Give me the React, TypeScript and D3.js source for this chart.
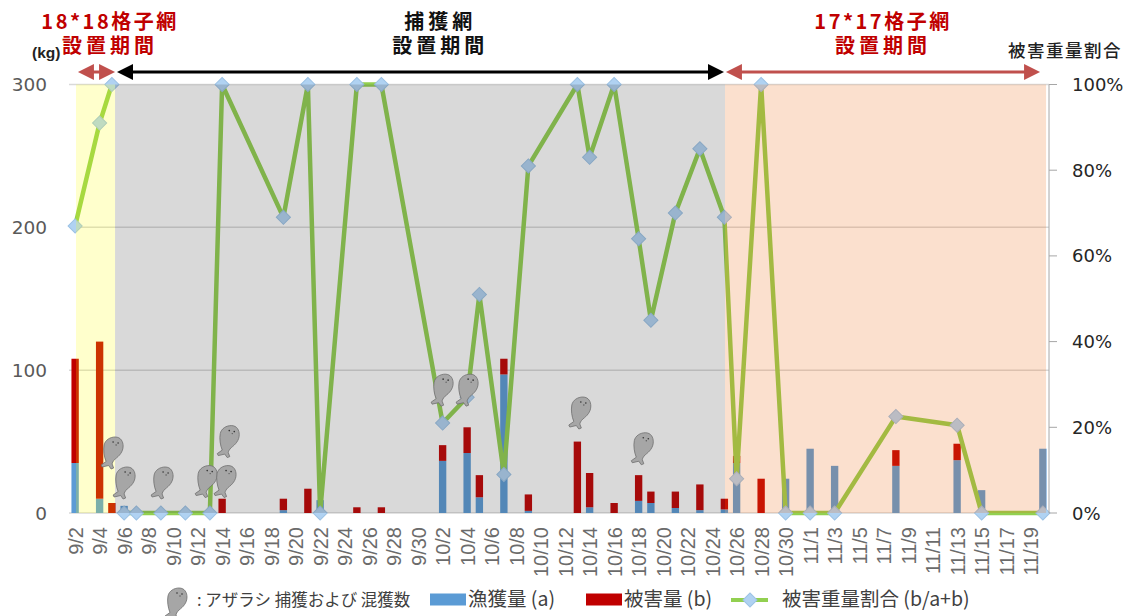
import React from 'react';
import * as d3 from 'd3';

const dates = [
  '9/2', '9/3', '9/4', '9/5', '9/6', '9/7', '9/8', '9/9', '9/10', '9/11', '9/12', '9/13', '9/14', '9/15', '9/16',
  '9/17', '9/18', '9/19', '9/20', '9/21', '9/22', '9/23', '9/24', '9/25', '9/26', '9/27', '9/28', '9/29', '9/30',
  '10/1', '10/2', '10/3', '10/4', '10/5', '10/6', '10/7', '10/8', '10/9', '10/10', '10/11', '10/12', '10/13',
  '10/14', '10/15', '10/16', '10/17', '10/18', '10/19', '10/20', '10/21', '10/22', '10/23', '10/24', '10/25',
  '10/26', '10/27', '10/28', '10/29', '10/30', '10/31', '11/1', '11/2', '11/3', '11/4', '11/5', '11/6', '11/7',
  '11/8', '11/9', '11/10', '11/11', '11/12', '11/13', '11/14', '11/15', '11/16', '11/17', '11/18', '11/19', '11/20',
];

// bars: catch (a) and damage (b), kg
const barDates = ['9/2', '9/4', '9/5', '9/6', '9/14', '9/19', '9/21', '9/22', '9/25', '9/27', '10/2', '10/4', '10/5', '10/7', '10/9', '10/13', '10/14', '10/16', '10/18', '10/19', '10/21', '10/23', '10/25', '10/26', '10/28', '10/30', '11/1', '11/3', '11/8', '11/13', '11/15', '11/20'];
const catchKg = [35, 10, 0, 5, 0, 2, 0, 9, 0, 0, 36.5, 42, 11, 97, 1.5, 0, 4, 0, 8.5, 7, 3.5, 2, 2.5, 35, 0, 24, 45, 33, 33, 37, 16, 45];
const damageKg = [73, 110, 7, 0, 10, 8, 17, 0, 4, 4, 11, 18, 15.5, 11, 11.5, 50, 24, 7, 18, 8, 11.5, 18, 7.5, 5, 24, 0, 0, 0, 11, 11.5, 0, 0];

// damage ratio line, %. The line is broken after the first three points
const ratioDates = ['9/2', '9/4', '9/5', '9/6', '9/7', '9/9', '9/11', '9/13', '9/14', '9/19', '9/21', '9/22', '9/25', '9/27', '10/2', '10/4', '10/5', '10/7', '10/9', '10/13', '10/14', '10/16', '10/18', '10/19', '10/21', '10/23', '10/25', '10/26', '10/28', '10/30', '11/1', '11/3', '11/8', '11/13', '11/15', '11/20'];
const ratioPct = [67, 91, 100, 0, 0, 0, 0, 0, 100, 69, 100, 0, 100, 100, 21, 27, 51, 9, 81, 100, 83, 100, 64, 45, 70, 85, 69, 8, 100, 0, 0, 0, 22.5, 20.5, 0, 0];
const ratioBreak = 3;

// seals: fractional day index and height in kg
const sealDays = [3.02, 4, 7.1, 10.7, 12.24, 12.5, 29.96, 32, 41.2, 46.3];
const sealKg = [42, 21, 21, 22, 22, 50, 86, 86, 70, 45];

const leftTicks = [0, 100, 200, 300];
const rightTicks = [0, 20, 40, 60, 80, 100];

// period bands as day edges
const periods = [
  { from: 0.57, to: 3.76, fill: '#FFFF00', opacity: 0.2 },
  { from: 3.76, to: 53.55, fill: '#343434', opacity: 0.19 },
  { from: 53.55, to: 79.76, fill: '#EB640A', opacity: 0.2 },
];

const arrows = [
  { from: 0.73, to: 3.76, color: '#C0504D', w: 3 },
  { from: 3.92, to: 53.47, color: '#000000', w: 3 },
  { from: 53.63, to: 79.27, color: '#C0504D', w: 3 },
];

const headings = [
  { day: 3.35, color: '#C00000', lines: ['18*18格子網', '設置期間'], spacing: [2.5, 4] },
  { day: 30.3, color: '#111111', lines: ['捕獲網', '設置期間'], spacing: [4, 4] },
  { day: 66.45, color: '#C00000', lines: ['17*17格子網', '設置期間'], spacing: [2.5, 4] },
];

const W = 1131;
const H = 616;
const margin = { top: 84.5, right: 82, bottom: 103, left: 69 };
const sans = '"Liberation Sans", "Noto Sans CJK JP", sans-serif';
const wide = '"DejaVu Sans", sans-serif';
const cjk = '"Noto Sans CJK JP", sans-serif';
const GREEN = '#92D050';

const x = d3.scaleBand<string>().domain(dates).range([margin.left, W - margin.right]).paddingInner(0.4).paddingOuter(0.2);
const edge = d3.scaleLinear().domain([0, 80]).range([margin.left, W - margin.right]);
const yKg = d3.scaleLinear().domain([0, 300]).range([H - margin.bottom, margin.top]);
const yPct = d3.scaleLinear().domain([0, 100]).range([H - margin.bottom, margin.top]);
const cx = (d: string) => (x(d) as number) + x.bandwidth() / 2;

const ratioPoints = ratioDates.map((d, i) => ({ date: d, pct: ratioPct[i] }));
const line = d3.line<{ date: string; pct: number }>()
  .x(d => cx(d.date))
  .y(d => yPct(d.pct));

function Seal({ tx, ty }: { tx: number; ty: number }) {
  return (
    <g transform={`translate(${tx},${ty})`}>
      <path
        d="M3,-16 C9,-16 11,-11 11,-7 C11,-1 7,3 3,6 C1,8 0,10 0,11 L1.5,15 L-1,16 L-3.5,12.5 L-10,14 L-11,12 L-6,8.5 C-8,4 -9,-3 -8,-8 C-7,-13 -2,-16 3,-16 Z"
        fill="#A6A6A6"
        stroke="#6F6F6F"
        strokeWidth={0.8}
      />
      <circle cx={1} cy={-11} r={0.8} fill="#333" />
      <circle cx={6} cy={-10} r={0.8} fill="#333" />
      <circle cx={4} cy={-8} r={0.7} fill="#555" />
    </g>
  );
}

function Marker({ tx, ty }: { tx: number; ty: number }) {
  return (
    <path
      transform={`translate(${tx},${ty}) rotate(45)`}
      d="M-5,-5H5V5H-5Z"
      fill="#B0D2F2"
      stroke="#9CC2E5"
      strokeWidth={1}
    />
  );
}

function Arrow({ x1, x2, y, color, w }: { x1: number; x2: number; y: number; color: string; w: number }) {
  const len = Math.min(16, (x2 - x1) / 2);
  return (
    <g fill={color}>
      <line x1={x1 + 4} x2={x2 - 4} y1={y} y2={y} stroke={color} strokeWidth={w} />
      <path d={`M${x1},${y}L${x1 + len},${y - 8}V${y + 8}Z`} />
      <path d={`M${x2},${y}L${x2 - len},${y - 8}V${y + 8}Z`} />
    </g>
  );
}

export default function App() {
  const base = yKg(0);
  return (
    <svg width={W} height={H} style={{ position: 'fixed', left: 0, top: 0, display: 'block', background: '#fff' }}>
      {/* Gridlines */}
      {leftTicks.map(t => (
        <line key={t} x1={margin.left} x2={W - margin.right} y1={yKg(t)} y2={yKg(t)} stroke="#D9D9D9" strokeWidth={1.5} />
      ))}

      {/* Stacked bars */}
      {barDates.map((d, i) => (
        <g key={d}>
          {catchKg[i] > 0 && (
            <rect x={x(d)} width={x.bandwidth()} y={yKg(catchKg[i])} height={base - yKg(catchKg[i])} fill="#5B9BD5" />
          )}
          {damageKg[i] > 0 && (
            <rect x={x(d)} width={x.bandwidth()} y={yKg(catchKg[i] + damageKg[i])} height={yKg(catchKg[i]) - yKg(catchKg[i] + damageKg[i])} fill="#C00000" />
          )}
        </g>
      ))}

      {/* Ratio line */}
      {[ratioPoints.slice(0, ratioBreak), ratioPoints.slice(ratioBreak)].map(seg => (
        <path key={seg[0].date} d={line(seg) ?? ''} fill="none" stroke={GREEN} strokeWidth={4.5} strokeLinejoin="round" />
      ))}
      {ratioDates.map((d, i) => (
        <Marker key={d} tx={cx(d)} ty={yPct(ratioPct[i])} />
      ))}

      {/* Period bands sit on top of the bars, they tint them */}
      {periods.map(p => (
        <rect
          key={p.from}
          x={edge(p.from)}
          width={edge(p.to) - edge(p.from)}
          y={margin.top}
          height={base - margin.top}
          fill={p.fill}
          fillOpacity={p.opacity}
        />
      ))}

      {/* Right axis */}
      <line x1={W - margin.right} x2={W - margin.right} y1={margin.top} y2={base} stroke="#A6A6A6" />
      {rightTicks.map(t => (
        <g key={t}>
          <line x1={W - margin.right} x2={W - margin.right + 8} y1={yPct(t)} y2={yPct(t)} stroke="#A6A6A6" />
          <text x={1072} y={yPct(t) + 6.5} fontFamily={wide} fontSize={18} fill="#262626">{t}%</text>
        </g>
      ))}

      {/* Left axis labels */}
      {leftTicks.map(t => (
        <text key={t} x={47} y={yKg(t) + 6.5} textAnchor="end" fontFamily={wide} fontSize={18.5} fill="#595959">{t}</text>
      ))}

      {/* X labels */}
      {dates.filter((_, i) => i % 2 === 0).map(d => (
        <text
          key={d}
          transform={`translate(${cx(d) + 7.5},527) rotate(-90)`}
          textAnchor="end"
          fontFamily={sans}
          fontSize={20}
          fill="#6B6B6B"
        >{d}</text>
      ))}

      {/* Seals */}
      {sealDays.map((d, i) => (
        <Seal key={d} tx={edge(d + 0.5)} ty={yKg(sealKg[i])} />
      ))}

      {/* Period arrows and headings */}
      {arrows.map(a => (
        <Arrow key={a.from} x1={edge(a.from)} x2={edge(a.to)} y={72} color={a.color} w={a.w} />
      ))}
      {headings.map(h => (
        <text
          key={h.day}
          y={29}
          textAnchor="middle"
          fontFamily={cjk}
          fontWeight="bold"
          fontSize={20}
          fill={h.color}
        >
          {h.lines.map((t, i) => (
            <tspan key={t} x={edge(h.day)} dy={i === 0 ? 0 : 24} letterSpacing={h.spacing[i]}>{t}</tspan>
          ))}
        </text>
      ))}

      <text x={32} y={58} fontFamily={sans} fontWeight="bold" fontSize={15.5} fill="#222">(kg)</text>
      <text x={1008} y={57} fontFamily={cjk} fontSize={17.5} fontWeight={500} fill="#222" letterSpacing={1.5}>被害重量割合</text>

      {/* Legend */}
      <Seal tx={176} ty={604} />
      <text x={197} y={606} fontFamily={cjk} fontSize={16.5} fill="#404040">: アザラシ 捕獲および 混獲数</text>
      <rect x={430} y={593.5} width={36} height={12} fill="#5B9BD5" />
      <text x={468} y={606} fontFamily={cjk} fontSize={19.5} fill="#404040">漁獲量 (a)</text>
      <rect x={586} y={593.5} width={36} height={12} fill="#C00000" />
      <text x={624} y={606} fontFamily={cjk} fontSize={19.5} fill="#404040">被害量 (b)</text>
      <line x1={731} x2={768} y1={600} y2={600} stroke={GREEN} strokeWidth={4} />
      <Marker tx={750} ty={600} />
      <text x={782} y={606} fontFamily={cjk} fontSize={19.5} fill="#404040">被害重量割合 (b/a+b)</text>
    </svg>
  );
}
